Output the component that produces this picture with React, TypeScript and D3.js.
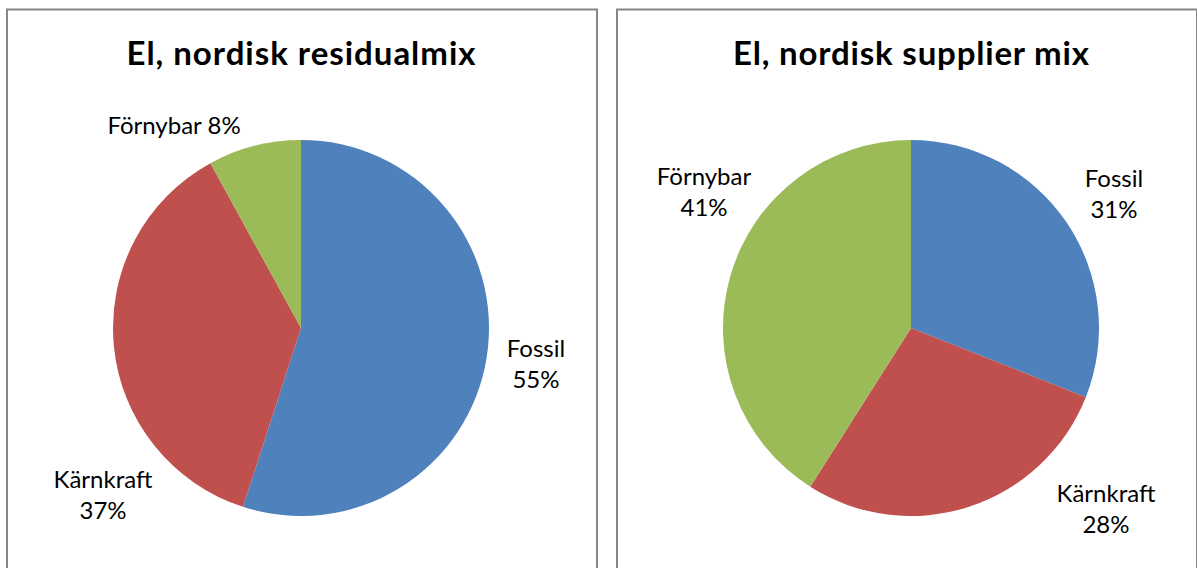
import * as d3 from 'd3'
import { useEffect, useRef } from 'react'

// data
const categories = ['Fossil', 'Kärnkraft', 'Förnybar']
const residualValues = [55, 37, 8]
const supplierValues = [31, 28, 41]
const titles = ['El, nordisk residualmix', 'El, nordisk supplier mix']
const colors = ['#4F81BD', '#C0504D', '#9BBB59']

// label anchors relative to pie centre (dx, dy of first line baseline), and whether on one line
const labelLayout = [
  [
    { dx: 235, dy: 29, oneLine: false },
    { dx: -198, dy: 160, oneLine: false },
    { dx: -127, dy: -194, oneLine: true },
  ],
  [
    { dx: 203, dy: -141, oneLine: false },
    { dx: 195, dy: 174, oneLine: false },
    { dx: -207, dy: -143, oneLine: false },
  ],
]
const titleWidths = [349, 356]

const W = 1197, H = 568

export default function App() {
  const svgRef = useRef(null)

  useEffect(() => {
    const svg = d3.select(svgRef.current)
    svg.selectAll('*').remove()

    const panels = [
      { x: 7, w: 590, cx: 301, values: residualValues },
      { x: 617, w: 580, cx: 911, values: supplierValues },
    ]
    const cy = 328, radius = 188

    const pie = d3.pie<number>().sort(null).value(d => d)
    const arc = d3.arc<any>().innerRadius(0).outerRadius(radius)

    panels.forEach((p, pi) => {
      const g = svg.append('g')
      g.append('path')
        .attr('d', `M${p.x},${H + 5}V${9.5}H${p.x + p.w}V${H + 5}`)
        .attr('fill', 'none')
        .attr('stroke', '#868686')
        .attr('stroke-width', 2)

      g.append('text')
        .attr('x', p.cx)
        .attr('y', 65)
        .attr('text-anchor', 'middle')
        .attr('textLength', titleWidths[pi])
        .attr('lengthAdjust', 'spacing')
        .style('font', 'bold 33px Lato, sans-serif')
        .attr('fill', '#000')
        .text(titles[pi])

      const pg = g.append('g').attr('transform', `translate(${p.cx},${cy})`)
      pg.selectAll('path')
        .data(pie(p.values))
        .join('path')
        .attr('d', arc)
        .attr('fill', (d, i) => colors[i])

      const lg = pg.append('g')
        .style('font', '24px Lato, sans-serif')
        .attr('fill', '#000')
        .attr('text-anchor', 'middle')
      p.values.forEach((v, i) => {
        const l = labelLayout[pi][i]
        if (l.oneLine) {
          lg.append('text').attr('x', l.dx).attr('y', l.dy).text(`${categories[i]} ${v}%`)
        } else {
          lg.append('text').attr('x', l.dx).attr('y', l.dy).text(categories[i])
          lg.append('text').attr('x', l.dx).attr('y', l.dy + 31).text(`${v}%`)
        }
      })
    })
  }, [])

  return (
    <svg
      ref={svgRef}
      width={W}
      height={H}
      style={{ position: 'absolute', left: 0, top: 0, background: '#fff' }}
    />
  )
}
